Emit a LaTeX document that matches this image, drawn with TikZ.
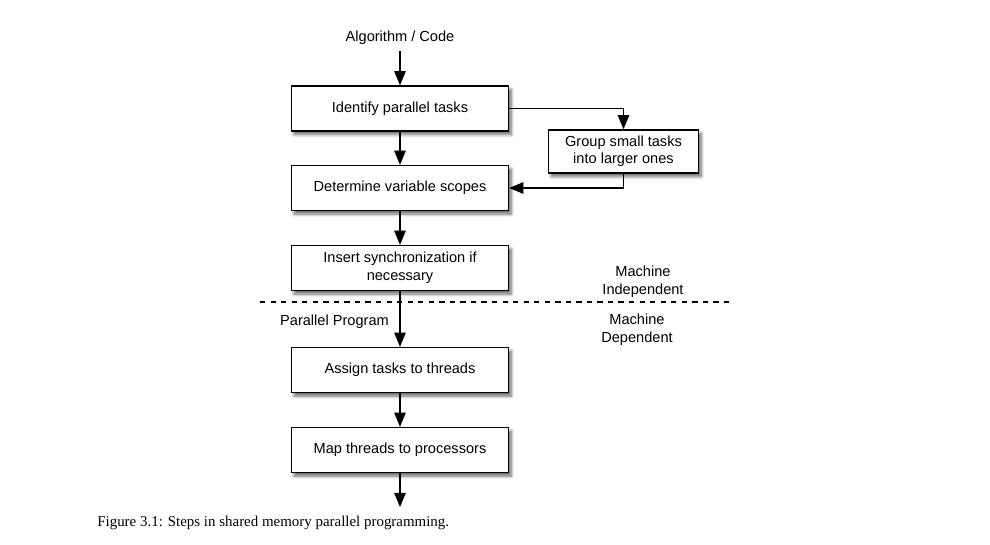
\documentclass[tikz,border=0pt]{standalone}
\usepackage{fontspec}
\setmainfont{Liberation Serif}
\setsansfont{Liberation Sans}
\usetikzlibrary{arrows.meta,shadows.blur}

\begin{document}
\begin{tikzpicture}[>={Triangle[width=6.5pt,length=8pt]},
    every node/.style={font=\sffamily\fontsize{8.3}{10}\selectfont},
    stepbox/.style={draw,thick,fill=white,minimum width=4.34cm,minimum height=0.9cm,
      align=center,text depth=0.4ex,
      blur shadow={shadow xshift=1.5pt,shadow yshift=-2pt,shadow blur steps=6,shadow opacity=60}},
    flow/.style={->,semithick}]
  \useasboundingbox (0,0) rectangle (19.8,10.88);
  % main chain
  \node (alg) at (8.0,10.12) {Algorithm / Code};
  \node[stepbox] (identify) at (8.0,8.71) {Identify parallel tasks};
  \node[stepbox,minimum width=3cm,minimum height=0.86cm] (group) at (12.47,7.85) {Group small tasks\\into larger ones};
  \node[stepbox] (determine) at (8.0,7.12) {Determine variable scopes};
  \node[stepbox] (insert) at (8.0,5.52) {Insert synchronization if\\necessary};
  \node[stepbox] (assign) at (8.0,3.48) {Assign tasks to threads};
  \node[stepbox] (map) at (8.0,1.88) {Map threads to processors};
  \coordinate (out) at (8.0,0.74);
  % split line
  \coordinate (dl) at (5.2,4.84);
  \coordinate (dr) at (14.6,4.84);
  \draw[dashed,semithick] (dl) -- (dr);
  \node[align=center] (indep) at (12.86,5.25) {Machine\\Independent};
  \node[align=center] (dep) at (12.74,4.29) {Machine\\Dependent};
  \node[anchor=east] (prog) at (7.9,4.44) {Parallel Program};
  % arrows
  \draw[flow] (alg.south) -- (identify.north);
  \draw[flow] (identify) -- (determine);
  \draw[flow] (identify.east) -| (group.north);
  \draw[flow] (group.south) |- (determine.east);
  \draw[flow] (determine) -- (insert);
  \draw[flow] (insert) -- (assign);
  \draw[flow] (assign) -- (map);
  \draw[flow] (map) -- (out);
  % caption
  \node[anchor=west,inner sep=0pt,font=\rmfamily\fontsize{8.5}{10}\selectfont] (cap) at (1.94,0.42)
    {Figure 3.1: Steps in shared memory parallel programming.};
\end{tikzpicture}
\end{document}
